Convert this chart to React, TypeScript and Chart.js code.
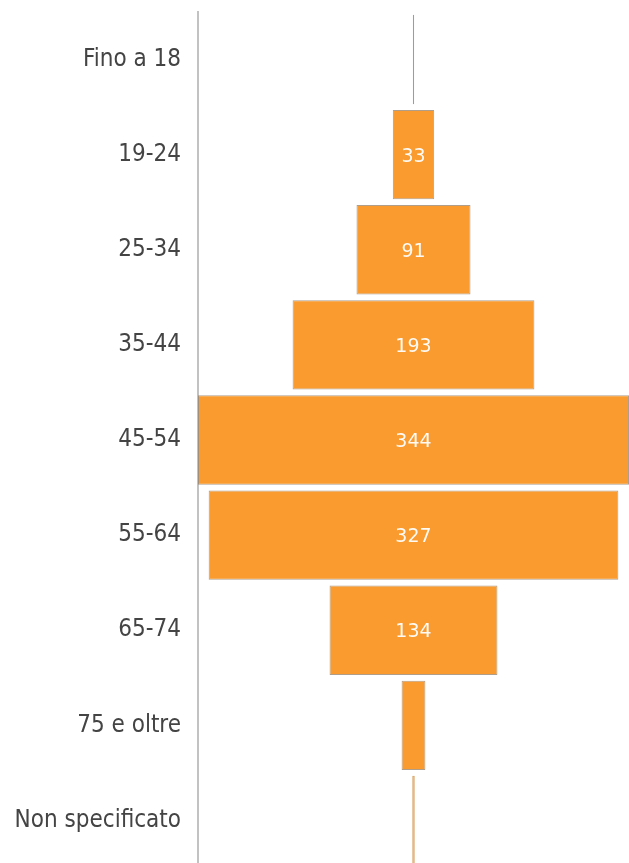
import React, { useEffect, useRef } from "react";
import { Chart, registerables } from "chart.js";

Chart.register(...registerables);

const categories = [
  "Fino a 18",
  "19-24",
  "25-34",
  "35-44",
  "45-54",
  "55-64",
  "65-74",
  "75 e oltre",
  "Non specificato",
];
const values = [1, 33, 91, 193, 344, 327, 134, 19, 2];
const showLabel = [false, true, true, true, true, true, true, false, false];

const FONT = "'DejaVu Sans Condensed', 'DejaVu Sans', sans-serif";
const LABEL_FONT = "'DejaVu Sans', sans-serif";
const EDGE = "rgba(150,125,100,0.75)";

const labelPlugin = {
  id: "funnelLabels",
  afterDatasetsDraw(chart: any) {
    const { ctx } = chart;
    const meta = chart.getDatasetMeta(0);
    ctx.save();
    ctx.fillStyle = "rgba(255,255,255,0.95)";
    ctx.font = `19px ${LABEL_FONT}`;
    ctx.textAlign = "center";
    ctx.textBaseline = "middle";
    meta.data.forEach((bar: any, i: number) => {
      if (!showLabel[i]) return;
      const cx = (bar.x + bar.base) / 2;
      ctx.fillText(String(values[i]), cx, bar.y + 2);
    });
    ctx.restore();
  },
};

export default function App() {
  const ref = useRef<HTMLCanvasElement | null>(null);

  useEffect(() => {
    document.body.style.margin = "0";
    document.body.style.overflow = "hidden";
    if (!ref.current) return;
    const chart = new Chart(ref.current, {
      type: "bar",
      data: {
        labels: categories,
        datasets: [
          {
            data: values.map((v) => [-v / 2, v / 2]) as any,
            backgroundColor: "#f99b2e",
            borderColor: ["#b89670", EDGE, EDGE, EDGE, EDGE, EDGE, EDGE, EDGE, "#d9a060"],
            borderWidth: 1,
            borderSkipped: false,
            barPercentage: 0.94,
            categoryPercentage: 1,
          },
        ],
      },
      options: {
        indexAxis: "y",
        animation: false,
        responsive: false,
        maintainAspectRatio: false,
        layout: { padding: { top: 12, bottom: 0, left: 0, right: 0 } },
        plugins: {
          legend: { display: false },
          tooltip: { enabled: false },
        },
        scales: {
          x: {
            display: false,
            min: -172,
            max: 172,
          },
          y: {
            afterFit: (s: any) => {
              s.width = 198;
              s.paddingTop = 0;
              s.paddingBottom = 0;
            },
            grid: { display: false },
            border: { display: true, color: "#c2c2c2", width: 2 },
            ticks: {
              padding: 9,
              color: "#444444",
              font: { family: FONT, size: 24 },
            },
          },
        },
      },
      plugins: [labelPlugin],
    });
    return () => chart.destroy();
  }, []);

  return (
    <div
      style={{
        position: "absolute",
        left: 0,
        top: 0,
        width: 629,
        height: 863,
        overflow: "hidden",
      }}
    >
      <canvas ref={ref} width={629} height={868} style={{ display: "block" }} />
    </div>
  );
}
